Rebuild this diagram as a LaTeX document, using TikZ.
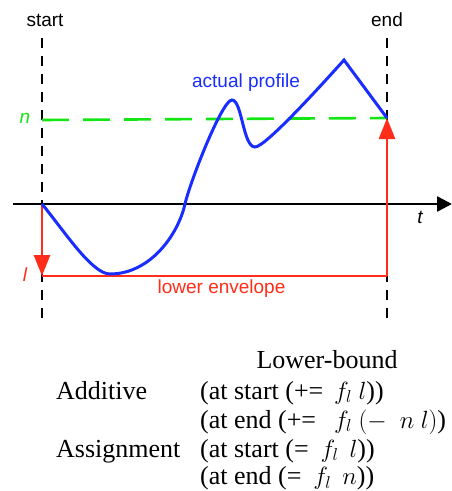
\documentclass[tikz,border=0pt]{standalone}
\usepackage{fontspec}
\setmainfont{Liberation Serif}
\setsansfont{Liberation Sans}
\usetikzlibrary{arrows.meta}
\definecolor{rd}{RGB}{255,45,25}
\definecolor{bl}{RGB}{25,45,255}
\definecolor{gr}{RGB}{20,230,20}
\begin{document}
\begin{tikzpicture}[x=1pt,y=-1pt,
  lbl/.style={font=\fontsize{19}{22}\selectfont\sffamily, inner sep=0pt},
  tbl/.style={font=\fontsize{26}{28}\selectfont, inner sep=0pt, anchor=base west},
  guide/.style={black, line width=1.3pt, dash pattern=on 10pt off 8pt},
  env/.style={rd, line width=2.6pt},
  redtip/.style={-{Triangle[length=21pt,width=16pt]}}]
\useasboundingbox (0,0) rectangle (452,491);
% guide lines
\coordinate (st) at (42,38);
\coordinate (sb) at (42,320);
\coordinate (et) at (387,38);
\coordinate (eb) at (387,320);
\draw[guide] (st) -- (sb);
\draw[guide] (et) -- (eb);
\node[lbl, anchor=base] (startlbl) at (45,26) {start};
\node[lbl, anchor=base] (endlbl) at (387,26) {end};
% n level
\coordinate (nl) at (42,120);
\coordinate (nr) at (387,118);
\draw[gr, line width=2.6pt, dash pattern=on 27pt off 14pt] (nl) -- (nr);
\node[lbl, gr, font=\fontsize{19}{22}\selectfont\sffamily\itshape] (nlbl) at (25,118) {n};
% axis
\coordinate (ax0) at (13,204);
\coordinate (ax1) at (452,204);
\coordinate (S) at (42,204);
\draw[black, line width=2.6pt, -{Triangle[length=15pt,width=15pt]}] (ax0) -- (ax1);
\node[lbl, font=\fontsize{19}{22}\selectfont\sffamily\itshape] (tlbl) at (420,217) {t};
% lower envelope
\coordinate (L) at (42,276);
\coordinate (R) at (387,276);
\coordinate (N) at (387,118);
\draw[env, redtip] (S) -- (L);
\draw[env] (L) -- (R);
\draw[env, redtip] (R) -- (N);
\node[lbl, rd, font=\fontsize{19}{22}\selectfont\sffamily\itshape] (llbl) at (25,275) {l};
\node[lbl, rd, anchor=base] (envlbl) at (221.5,293) {lower envelope};
% actual profile
\draw[bl, line width=3pt, line join=miter]
  (S) .. controls (65,232) and (92,274) .. (110,274)
      .. controls (150,274) and (178,235) .. (185,204)
      .. controls (190,182) and (222,100) .. (232,100)
      .. controls (242,100) and (243,147) .. (255,147)
      .. controls (265,147) and (317,90) .. (344,60)
      -- (N);
\node[lbl, bl, anchor=base] (proflbl) at (246,87) {actual profile};
% table
\node[tbl, anchor=base] (hdr) at (327,368) {Lower-bound};
\node[tbl] (add) at (56,399) {Additive};
\node[tbl] (r1) at (200,399) {(at start (+=\, $f_l\ l$))};
\node[tbl] (r2) at (200,428) {(at end (+=\;\, $f_l$ $(-\enspace n\ l)$)};
\node[tbl] (asg) at (56,457) {Assignment};
\node[tbl] (r3) at (200,457) {(at start (=\hspace{12pt}$f_l$\hspace{11pt}$l$))};
\node[tbl] (r4) at (200,484.5) {(at end (=\hspace{12pt}$f_l$\hspace{11pt}$n$))};
\end{tikzpicture}
\end{document}
